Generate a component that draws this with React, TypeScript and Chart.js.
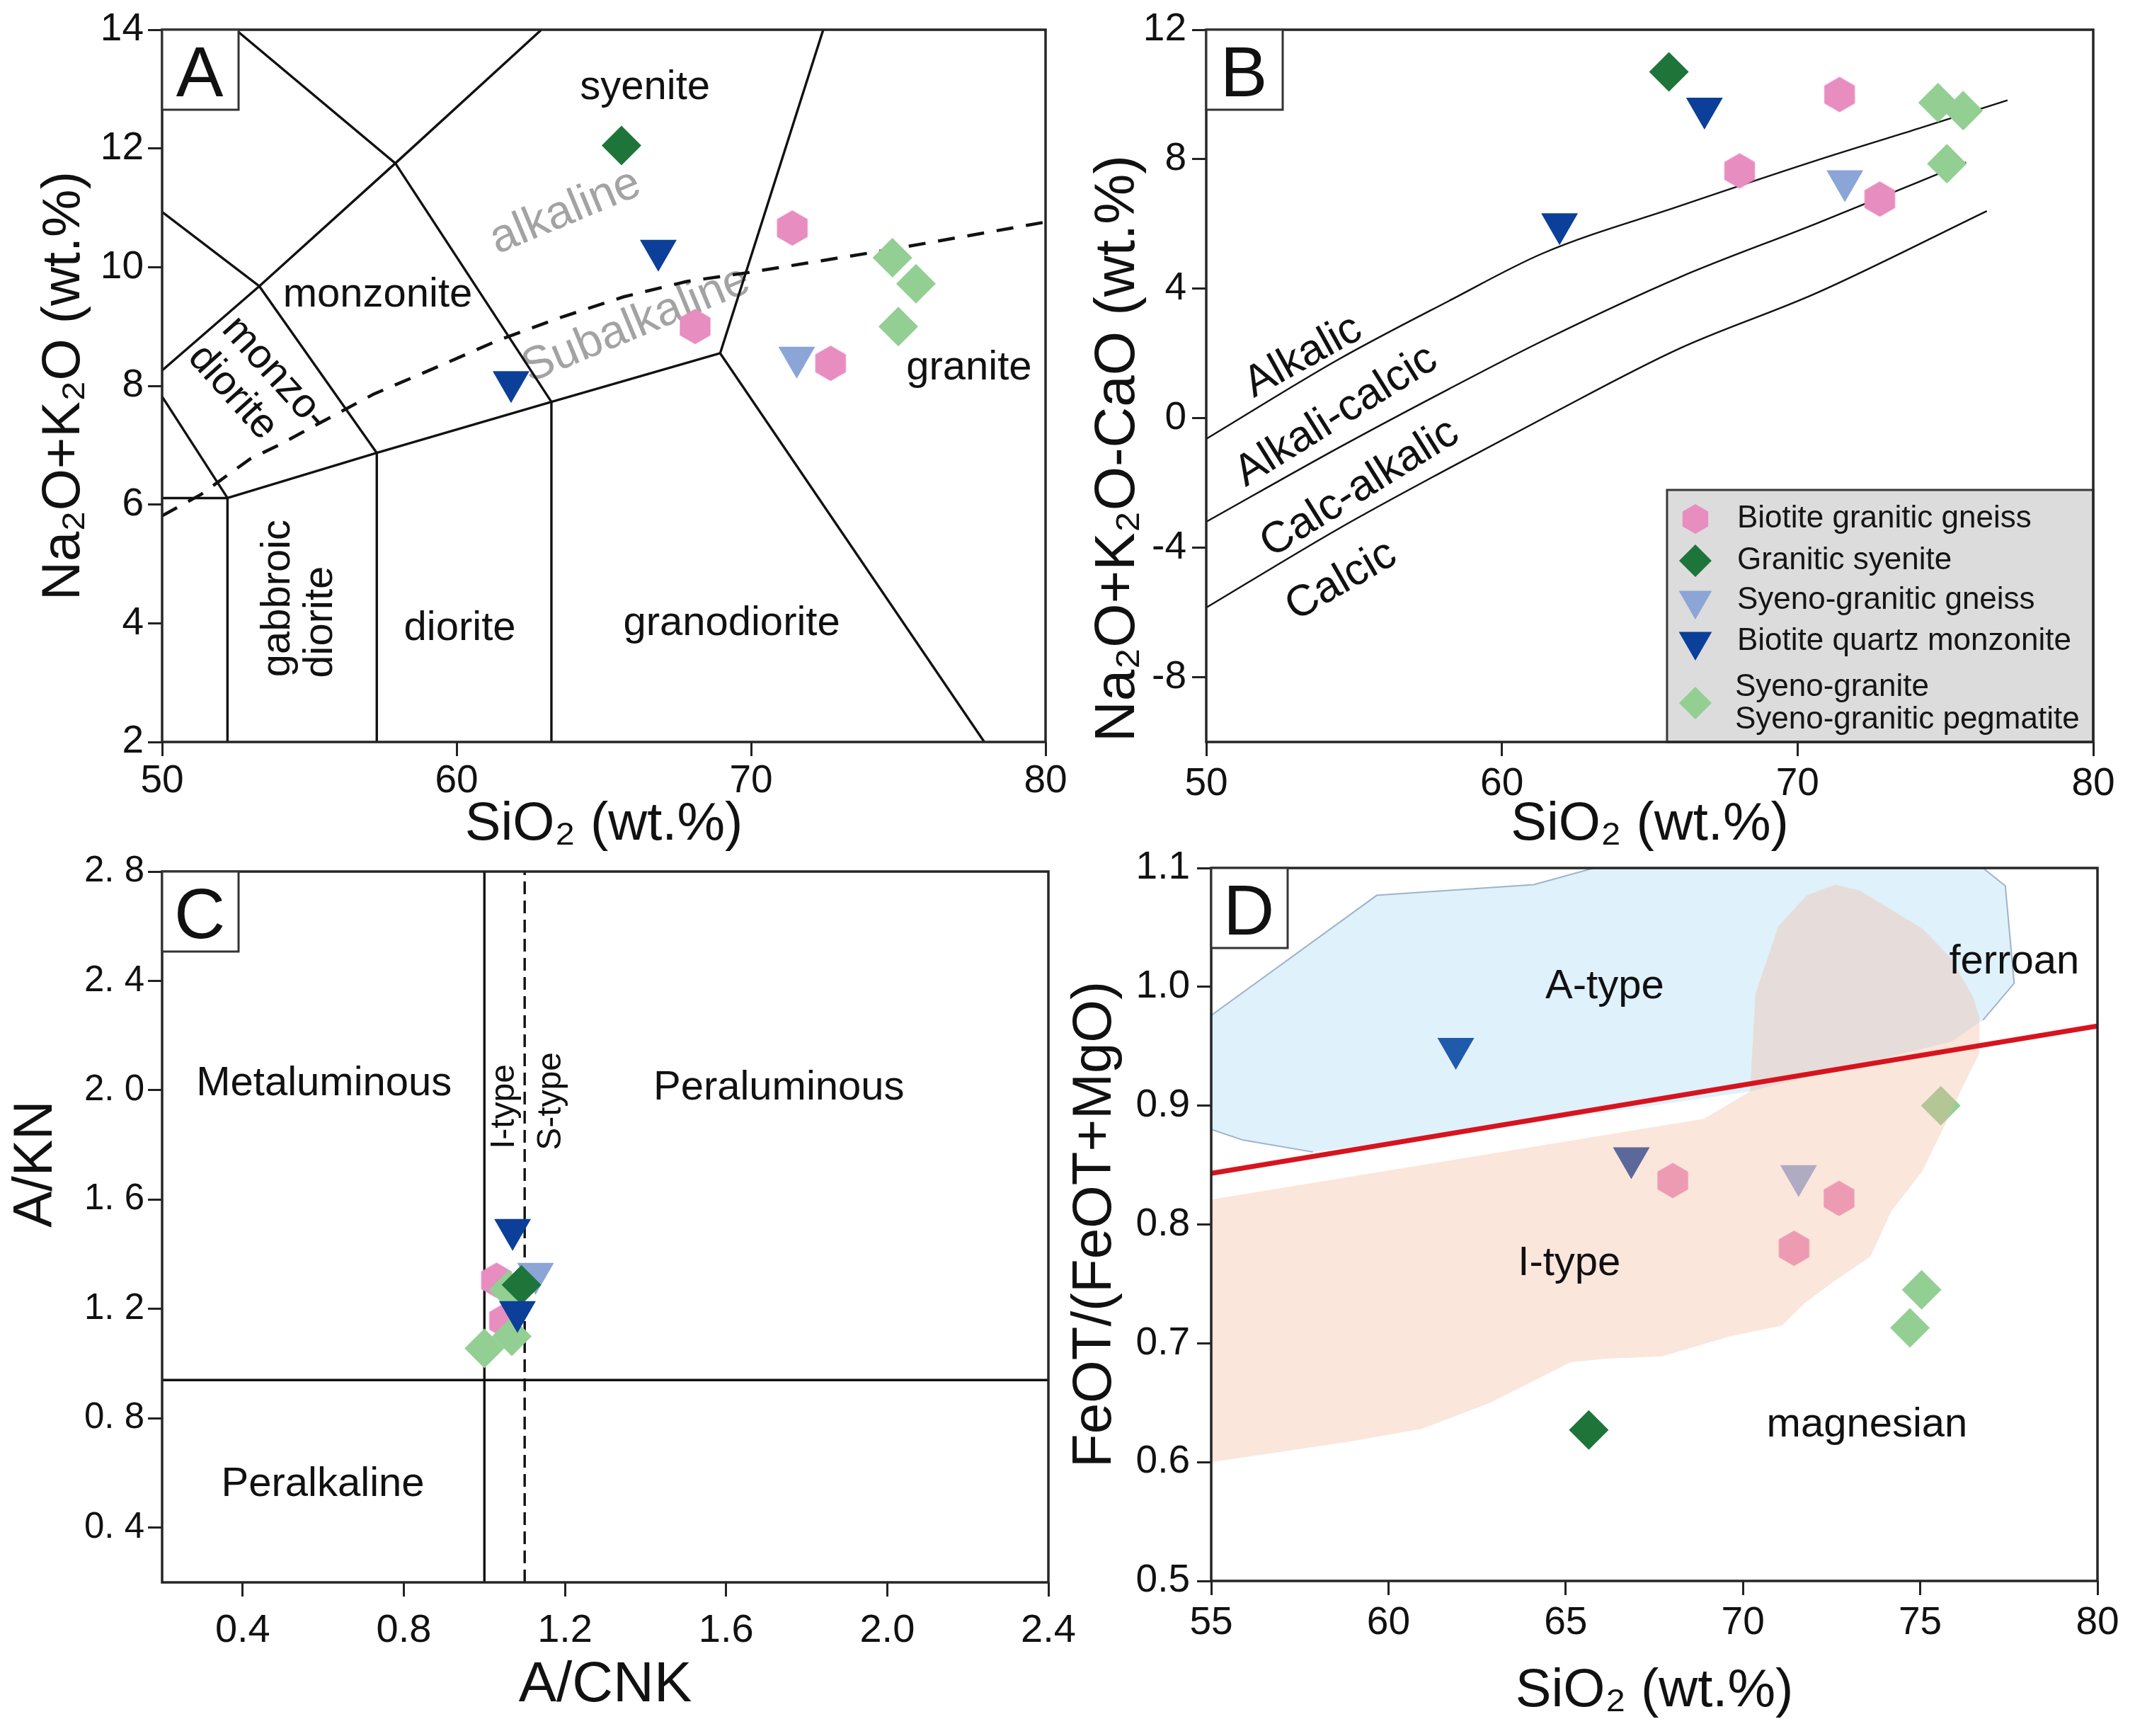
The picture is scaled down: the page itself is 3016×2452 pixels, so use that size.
import React, { useEffect, useRef } from 'react';
import { Chart, registerables } from 'chart.js';

Chart.register(...registerables);

const FONT = "'Liberation Sans', Arial, Helvetica, sans-serif";

type XY = [number, number];

// ---------------- sample groups (shared by all panels) ----------------
const seriesNames = ['Biotite granitic gneiss', 'Granitic syenite', 'Syeno-granitic gneiss', 'Biotite quartz monzonite', 'Syeno-granite / Syeno-granitic pegmatite'];
const legendLines = [['Biotite granitic gneiss'], ['Granitic syenite'], ['Syeno-granitic gneiss'], ['Biotite quartz monzonite'], ['Syeno-granite', 'Syeno-granitic pegmatite']];
const seriesColors = ['#e88dbf', '#1e7539', '#8ba5d7', '#0b3f99', '#93cf93'];
const seriesShapes = ['hex', 'diamond', 'tri', 'tri', 'diamond'];
const seriesOrder = [15, 12, 13, 11, 14];

// ---------------- Panel A : TAS ----------------
const tasBiotiteGranitic: XY[] = [[71.4, 10.66], [68.1, 9.0], [72.7, 8.38]];
const tasGraniticSyenite: XY[] = [[65.6, 12.05]];
const tasSyenoGneiss: XY[] = [[71.55, 8.48]];
const tasQtzMonzonite: XY[] = [[66.85, 10.28], [61.85, 8.07]];
const tasSyenoGranite: XY[] = [[74.8, 10.16], [75.6, 9.72], [75.0, 9.0]];
const tasBoundaries: XY[][] = [
  [[50, 8.26], [53.3, 9.68], [57.92, 11.75], [62.88, 14]],
  [[52.5, 14], [57.92, 11.75], [63.22, 7.73]],
  [[50, 10.93], [53.3, 9.68], [57.29, 6.87]],
  [[50, 7.82], [52.22, 6.11]],
  [[50, 6.11], [52.22, 6.11]],
  [[52.22, 6.11], [57.29, 6.87], [63.22, 7.73], [68.95, 8.55]],
  [[72.45, 14], [68.95, 8.55], [77.92, 2]],
  [[52.22, 6.11], [52.22, 2]],
  [[57.29, 6.87], [57.29, 2]],
  [[63.22, 7.73], [63.22, 2]],
];
const tasAlkalineDivide: XY[] = [[50, 5.81], [51.32, 6.17], [52.15, 6.47], [52.99, 6.77], [53.95, 7.0], [57.18, 7.86], [59.21, 8.29], [61.42, 8.77], [63.52, 9.15], [65.67, 9.5], [67.82, 9.76], [69.92, 9.91], [74.53, 10.28], [80, 10.76]];
const tasXTicks = [50, 60, 70, 80];
const tasYTicks = [2, 4, 6, 8, 10, 12, 14];

// ---------------- Panel B : MALI ----------------
const maliBiotiteGranitic: XY[] = [[71.42, 10.0], [68.04, 7.64], [72.78, 6.77]];
const maliGraniticSyenite: XY[] = [[65.65, 10.7]];
const maliSyenoGneiss: XY[] = [[71.6, 7.33]];
const maliQtzMonzonite: XY[] = [[66.85, 9.57], [61.95, 6.0]];
const maliSyenoGranite: XY[] = [[74.75, 9.75], [75.6, 9.5], [75.05, 7.86]];
const maliAlkalicCurve: XY[] = [[50, -0.64], [54.5, 1.83], [58.2, 3.62], [61.4, 5.1], [66, 6.55], [70.6, 7.95], [74.1, 8.95], [77.1, 9.82]];
const maliAlkaliCalcicCurve: XY[] = [[50, -3.2], [54.5, -0.9], [58.2, 0.9], [61.4, 2.4], [66, 4.35], [70.6, 6.0], [75.7, 7.9]];
const maliCalcAlkalicCurve: XY[] = [[50, -5.85], [54.5, -3.4], [58.2, -1.55], [61.4, 0.0], [66, 2.15], [70.6, 3.85], [76.4, 6.4]];
const maliXTicks = [50, 60, 70, 80];
const maliYTicks = [-8, -4, 0, 4, 8, 12];

// ---------------- Panel C : A/NK vs A/CNK ----------------
const acnkBiotiteGranitic: XY[] = [[1.03, 1.305], [1.05, 1.157]];
const acnkGraniticSyenite: XY[] = [[1.092, 1.288]];
const acnkSyenoGneiss: XY[] = [[1.127, 1.33]];
const acnkQtzMonzonite: XY[] = [[1.07, 1.49], [1.082, 1.19]];
const acnkSyenoGranite: XY[] = [[1.0, 1.056], [1.068, 1.1], [1.06, 1.27]];
const acnkMetaluminousDivide: XY[] = [[1.0, 0.2], [1.0, 2.8]];
const acnkISTypeDivide: XY[] = [[1.1, 0.2], [1.1, 2.8]];
const acnkPeralkalineDivide: XY[] = [[0.2, 0.94], [2.4, 0.94]];
const acnkXTicks = [0.4, 0.8, 1.2, 1.6, 2.0, 2.4];
const acnkYTicks = [0.4, 0.8, 1.2, 1.6, 2.0, 2.4, 2.8];

// ---------------- Panel D : Fe-number ----------------
const feBiotiteGranitic: XY[] = [[68.02, 0.837], [71.44, 0.78], [72.71, 0.822]];
const feGraniticSyenite: XY[] = [[65.65, 0.627]];
const feSyenoGneiss: XY[] = [[71.57, 0.841]];
const feQtzMonzonite: XY[] = [[61.9, 0.948], [66.85, 0.856]];
const feSyenoGranite: XY[] = [[75.58, 0.9], [75.04, 0.745], [74.71, 0.713]];
const feFerroanDivide: XY[] = [[55, 0.843], [80, 0.967]];
const feATypeField: XY[] = [[55, 0.976], [59.67, 1.077], [64.1, 1.086], [65.8, 1.1], [76.77, 1.1], [77.4, 1.085], [77.65, 1.003], [76.77, 0.972], [75.9, 0.954], [70.2, 0.912], [64.0, 0.885], [57.87, 0.861], [55.9, 0.871], [55, 0.88], [55, 0.976]];
const feITypeField: XY[] = [[55, 0.821], [68.9, 0.889], [70.2, 0.912], [70.35, 0.994], [71.0, 1.051], [71.8, 1.077], [72.6, 1.086], [73.3, 1.081], [75.06, 1.049], [75.87, 1.024], [76.5, 0.991], [76.67, 0.974], [76.67, 0.944], [76.2, 0.916], [75.7, 0.884], [75.06, 0.845], [74.18, 0.811], [73.6, 0.773], [72.56, 0.752], [71.75, 0.734], [71.1, 0.715], [69.65, 0.706], [67.72, 0.689], [66.1, 0.687], [65.13, 0.684], [62.87, 0.65], [60.94, 0.628], [58.83, 0.617], [55, 0.6], [55, 0.821]];
const feXTicks = [55, 60, 65, 70, 75, 80];
const feYTicks = [0.5, 0.6, 0.7, 0.8, 0.9, 1.0, 1.1];

// ---------------- text labels ----------------
type Label = { text: string; x: number; y: number; rot?: number; size: number; color?: string };
const labelsA: Label[] = [
  { text: 'syenite', x: 66.4, y: 13.02, size: 58 },
  { text: 'alkaline', x: 63.7, y: 10.93, rot: -22.5, size: 66, color: '#a3a3a3' },
  { text: 'monzonite', x: 57.32, y: 9.53, size: 58 },
  { text: 'Subalkaline', x: 66.1, y: 9.03, rot: -22.5, size: 66, color: '#a3a3a3' },
  { text: 'granite', x: 77.4, y: 8.3, size: 58 },
  { text: 'monzo-', x: 53.83, y: 8.21, rot: 48, size: 58 },
  { text: 'diorite', x: 52.39, y: 7.89, rot: 48, size: 58 },
  { text: 'gabbroic', x: 53.95, y: 4.42, rot: -90, size: 58 },
  { text: 'diorite', x: 55.38, y: 4.02, rot: -90, size: 58 },
  { text: 'diorite', x: 60.11, y: 3.91, size: 58 },
  { text: 'granodiorite', x: 69.34, y: 3.99, size: 58 },
];
const labelsB: Label[] = [
  { text: 'Alkalic', x: 53.28, y: 1.9, rot: -29, size: 62 },
  { text: 'Alkali-calcic', x: 54.4, y: 0.06, rot: -32, size: 62 },
  { text: 'Calc-alkalic', x: 55.2, y: -2.17, rot: -32, size: 62 },
  { text: 'Calcic', x: 54.57, y: -5.03, rot: -30, size: 62 },
];
const labelsC: Label[] = [
  { text: 'Metaluminous', x: 0.602, y: 2.023, size: 58 },
  { text: 'Peraluminous', x: 1.731, y: 2.008, size: 58 },
  { text: 'Peralkaline', x: 0.599, y: 0.558, size: 58 },
  { text: 'I-type', x: 1.05, y: 1.94, rot: -90, size: 48 },
  { text: 'S-type', x: 1.166, y: 1.96, rot: -90, size: 48 },
];
const labelsD: Label[] = [
  { text: 'A-type', x: 66.1, y: 1.0, size: 58 },
  { text: 'ferroan', x: 77.65, y: 1.021, size: 58 },
  { text: 'I-type', x: 65.1, y: 0.767, size: 58 },
  { text: 'magnesian', x: 73.5, y: 0.631, size: 58 },
];

// ---------------- helpers ----------------
const toPts = (a: XY[]) => a.map(([x, y]) => ({ x, y }));

function shapePath(ctx: CanvasRenderingContext2D, shape: string, x: number, y: number, r: number) {
  ctx.beginPath();
  if (shape === 'hex') {
    for (let k = 0; k < 6; k++) {
      const a = ((-90 + 60 * k) * Math.PI) / 180;
      const px = x + r * Math.cos(a), py = y + r * Math.sin(a);
      if (k === 0) ctx.moveTo(px, py); else ctx.lineTo(px, py);
    }
  } else if (shape === 'diamond') {
    ctx.moveTo(x, y - r); ctx.lineTo(x + r, y); ctx.lineTo(x, y + r); ctx.lineTo(x - r, y);
  } else {
    const c = Math.cos(Math.PI / 6) * r;
    ctx.moveTo(x, y + r); ctx.lineTo(x - c, y - r / 2); ctx.lineTo(x + c, y - r / 2);
  }
  ctx.closePath();
}

function makeHex(color: string, r: number) {
  const w = Math.ceil(r * Math.sqrt(3)) + 2, h = Math.ceil(2 * r) + 2;
  const c = document.createElement('canvas');
  c.width = w; c.height = h;
  const g = c.getContext('2d')!;
  g.fillStyle = color;
  shapePath(g, 'hex', w / 2, h / 2, r);
  g.fill();
  return c;
}

function markerSets(groups: XY[][], hex: HTMLCanvasElement) {
  return groups.map((g, i) => {
    const shape = seriesShapes[i];
    const ds: any = {
      type: 'scatter', label: seriesNames[i], data: toPts(g), order: seriesOrder[i],
      pointBackgroundColor: seriesColors[i], backgroundColor: seriesColors[i],
      pointBorderWidth: 0, borderWidth: 0,
    };
    if (shape === 'hex') { ds.pointStyle = hex; ds.pointRadius = 25; }
    else if (shape === 'diamond') { ds.pointStyle = 'rectRot'; ds.pointRadius = 28; }
    else { ds.pointStyle = 'triangle'; ds.pointRadius = 30; ds.pointRotation = 180; }
    return ds;
  });
}

function lineSet(pts: XY[], o: any = {}) {
  return { type: 'line', data: toPts(pts), borderColor: '#111', borderWidth: 3.4, pointRadius: 0, fill: false, tension: 0, order: 50, ...o };
}

type AxisSpec = {
  min: number; max: number; ticks: number[]; fmt: (v: number) => string; size: number; pad: number;
  fit: number; title: string; titleSize: number; titlePad: number; align?: string; showTitle?: boolean;
};

function axis(a: AxisSpec, horizontal: boolean) {
  return {
    type: 'linear',
    position: horizontal ? 'bottom' : 'left',
    min: a.min, max: a.max,
    afterBuildTicks: (s: any) => { s.ticks = a.ticks.map((v) => ({ value: v })); },
    afterFit: (s: any) => { if (horizontal) s.height = a.fit; else s.width = a.fit; },
    grid: { display: true, drawOnChartArea: false, drawTicks: true, tickLength: 20, tickWidth: 3, tickColor: '#222', color: '#222', lineWidth: 3 },
    border: { display: false },
    ticks: { autoSkip: false, maxRotation: 0, minRotation: 0, padding: a.pad, color: '#111', font: { family: FONT, size: a.size }, callback: (v: any) => a.fmt(Number(v)) },
    title: {
      display: a.showTitle !== false, text: a.title, color: '#111', align: a.align || 'center',
      font: { family: FONT, size: a.titleSize, lineHeight: 1 },
      padding: horizontal ? { top: 0, bottom: a.titlePad } : { top: a.titlePad, bottom: 0 },
    },
  };
}

type Decor = {
  letter: string; labels: Label[]; labelsOnTop?: boolean; legend?: { x: number; y: number };
  yTitle?: { text: string; size: number; left: number; y: number };
};

function decorPlugin(id: string, d: Decor) {
  const drawLabels = (chart: any) => {
    const { ctx, scales } = chart;
    ctx.save();
    for (const l of d.labels) {
      const px = scales.x.getPixelForValue(l.x), py = scales.y.getPixelForValue(l.y);
      ctx.save();
      ctx.translate(px, py);
      ctx.rotate(((l.rot || 0) * Math.PI) / 180);
      ctx.font = `${l.size}px ${FONT}`;
      ctx.fillStyle = l.color || '#111';
      ctx.textAlign = 'center';
      ctx.textBaseline = 'middle';
      ctx.fillText(l.text, 0, 0);
      ctx.restore();
    }
    ctx.restore();
  };
  return {
    id,
    beforeDatasetsDraw(chart: any) { if (!d.labelsOnTop) drawLabels(chart); },
    afterDatasetsDraw(chart: any) {
      if (d.labelsOnTop) drawLabels(chart);
      const { ctx, chartArea: ca, scales } = chart;
      ctx.save();
      // y-axis title drawn off-centre, as in the source figure
      if (d.yTitle) {
        ctx.save();
        ctx.translate(d.yTitle.left, scales.y.getPixelForValue(d.yTitle.y));
        ctx.rotate(-Math.PI / 2);
        ctx.font = `${d.yTitle.size}px ${FONT}`;
        ctx.fillStyle = '#111';
        ctx.textAlign = 'center'; ctx.textBaseline = 'middle';
        ctx.fillText(d.yTitle.text, 0, 0);
        ctx.restore();
      }
      // legend
      if (d.legend) {
        const L = scales.x.getPixelForValue(d.legend.x), T = scales.y.getPixelForValue(d.legend.y);
        ctx.fillStyle = '#dcdcdc';
        ctx.fillRect(L, T, ca.right - L, ca.bottom - T);
        ctx.strokeStyle = '#3a3a3a'; ctx.lineWidth = 3;
        ctx.strokeRect(L, T, ca.right - L, ca.bottom - T);
        const rowY = [41, 100, 156, 214, 301];
        const lineY = [[41], [100], [156], [214], [279, 325]];
        const rad: any = { hex: 21, diamond: 23, tri: 27 };
        for (let i = 0; i < legendLines.length; i++) {
          ctx.fillStyle = seriesColors[i];
          shapePath(ctx, seriesShapes[i], L + 40, T + rowY[i], rad[seriesShapes[i]]);
          ctx.fill();
          ctx.fillStyle = '#151515';
          ctx.font = `44px ${FONT}`;
          ctx.textAlign = 'left'; ctx.textBaseline = 'middle';
          legendLines[i].forEach((t, k) => ctx.fillText(t, L + (i === 4 ? 96 : 99), T + lineY[i][k]));
        }
      }
      // frame
      ctx.strokeStyle = '#262626'; ctx.lineWidth = 3.5;
      ctx.strokeRect(ca.left, ca.top, ca.right - ca.left, ca.bottom - ca.top);
      // panel letter box
      ctx.fillStyle = '#fff';
      ctx.fillRect(ca.left, ca.top, 108, 113);
      ctx.strokeStyle = '#333'; ctx.lineWidth = 3;
      ctx.strokeRect(ca.left, ca.top, 108, 113);
      ctx.fillStyle = '#111';
      ctx.font = `100px ${FONT}`;
      ctx.textAlign = 'center'; ctx.textBaseline = 'alphabetic';
      ctx.fillText(d.letter, ca.left + 53, ca.top + 94);
      ctx.restore();
    },
  };
}

function makeConfig(datasets: any[], padding: any, x: any, y: any, plugin: any) {
  return {
    type: 'scatter',
    data: { datasets },
    options: {
      animation: false, responsive: false, devicePixelRatio: 1, events: [],
      layout: { padding },
      plugins: { legend: { display: false }, tooltip: { enabled: false } },
      scales: { x, y },
    },
    plugins: [plugin],
  } as any;
}

const int = (v: number) => String(v);
const one = (v: number) => v.toFixed(1);
const spaced = (v: number) => v.toFixed(1).replace('.', '. ');

export default function App() {
  const refA = useRef<HTMLCanvasElement>(null);
  const refB = useRef<HTMLCanvasElement>(null);
  const refC = useRef<HTMLCanvasElement>(null);
  const refD = useRef<HTMLCanvasElement>(null);

  useEffect(() => {
    const hex = makeHex(seriesColors[0], 25);

    const dsA = [
      ...markerSets([tasBiotiteGranitic, tasGraniticSyenite, tasSyenoGneiss, tasQtzMonzonite, tasSyenoGranite], hex),
      ...tasBoundaries.map((b) => lineSet(b)),
      lineSet(tasAlkalineDivide, { borderWidth: 4.5, borderDash: [24, 18] }),
    ];
    const chartA = new Chart(refA.current!, makeConfig(dsA, { left: 0, top: 42, right: 83, bottom: 0 },
      axis({ min: 50, max: 80, ticks: tasXTicks, fmt: int, size: 55, pad: 3, fit: 178, title: 'SiO₂ (wt.%)', titleSize: 76, titlePad: 23 }, true),
      axis({ min: 2, max: 14, ticks: tasYTicks, fmt: int, size: 55, pad: 6, fit: 229, title: 'Na₂O+K₂O (wt.%)', titleSize: 76, titlePad: 53 }, false),
      decorPlugin('decorA', { letter: 'A', labels: labelsA })));

    const dsB = [
      ...markerSets([maliBiotiteGranitic, maliGraniticSyenite, maliSyenoGneiss, maliQtzMonzonite, maliSyenoGranite], hex),
      lineSet(maliAlkalicCurve, { borderWidth: 2.4, cubicInterpolationMode: 'monotone' }),
      lineSet(maliAlkaliCalcicCurve, { borderWidth: 2.4, cubicInterpolationMode: 'monotone' }),
      lineSet(maliCalcAlkalicCurve, { borderWidth: 2.4, cubicInterpolationMode: 'monotone' }),
    ];
    const chartB = new Chart(refB.current!, makeConfig(dsB, { left: 0, top: 42, right: 59, bottom: 0 },
      axis({ min: 50, max: 80, ticks: maliXTicks, fmt: int, size: 55, pad: 7, fit: 178, title: 'SiO₂ (wt.%)', titleSize: 76, titlePad: 23 }, true),
      axis({ min: -10, max: 12, ticks: maliYTicks, fmt: int, size: 55, pad: 8, fit: 196, title: 'Na₂O+K₂O-CaO (wt.%)', titleSize: 80, titlePad: 32, align: 'start' }, false),
      decorPlugin('decorB', { letter: 'B', labels: labelsB, legend: { x: 65.585, y: -2.215 } })));

    const dsC = [
      ...markerSets([acnkBiotiteGranitic, acnkGraniticSyenite, acnkSyenoGneiss, acnkQtzMonzonite, acnkSyenoGranite], hex),
      lineSet(acnkMetaluminousDivide),
      lineSet(acnkISTypeDivide, { borderDash: [18, 9] }),
      lineSet(acnkPeralkalineDivide),
    ];
    const chartC = new Chart(refC.current!, makeConfig(dsC, { left: 0, top: 51, right: 79, bottom: 0 },
      axis({ min: 0.2, max: 2.4, ticks: acnkXTicks, fmt: one, size: 56, pad: 15, fit: 217, title: 'A/CNK', titleSize: 80, titlePad: 31 }, true),
      axis({ min: 0.2, max: 2.8, ticks: acnkYTicks, fmt: spaced, size: 51, pad: 5, fit: 229, title: 'A/KN', titleSize: 77, titlePad: 14, showTitle: false }, false),
      decorPlugin('decorC', { letter: 'C', labels: labelsC, yTitle: { text: 'A/KN', size: 77, left: 52, y: 1.73 } })));

    const dsD = [
      ...markerSets([feBiotiteGranitic, feGraniticSyenite, feSyenoGneiss, feQtzMonzonite, feSyenoGranite], hex),
      lineSet(feATypeField, { fill: 'shape', backgroundColor: 'rgba(110,191,237,0.22)', borderWidth: 0, order: 3 }),
      lineSet(feATypeField.slice(0, 8), { borderColor: 'rgba(150,172,196,0.9)', borderWidth: 2, order: 2 }),
      lineSet(feATypeField.slice(11, 14), { borderColor: 'rgba(150,172,196,0.9)', borderWidth: 2, order: 2 }),
      lineSet(feITypeField, { fill: 'shape', backgroundColor: 'rgba(243,182,153,0.344)', borderWidth: 0, order: 1 }),
      lineSet(feFerroanDivide, { borderColor: '#d7141e', borderWidth: 7, order: 0 }),
    ];
    const chartD = new Chart(refD.current!, makeConfig(dsD, { left: 0, top: 46, right: 53, bottom: 0 },
      axis({ min: 55, max: 80, ticks: feXTicks, fmt: int, size: 55, pad: 7, fit: 219, title: 'SiO₂ (wt.%)', titleSize: 76, titlePad: 25 }, true),
      axis({ min: 0.5, max: 1.1, ticks: feYTicks, fmt: one, size: 55, pad: 10, fit: 203, title: 'FeOT/(FeOT+MgO)', titleSize: 78, titlePad: 0 }, false),
      decorPlugin('decorD', { letter: 'D', labels: labelsD, labelsOnTop: true })));

    return () => { chartA.destroy(); chartB.destroy(); chartC.destroy(); chartD.destroy(); };
  }, []);

  const cv = (left: number, top: number, w: number, h: number): React.CSSProperties => ({ position: 'absolute', left, top, width: w, height: h, display: 'block' });

  return (
    <div style={{ position: 'absolute', left: 0, top: 0, width: 3016, height: 2452, background: '#fff', overflow: 'hidden' }}>
      <canvas ref={refA} width={1560} height={1226} style={cv(0, 0, 1560, 1226)} />
      <canvas ref={refB} width={1508} height={1226} style={cv(1508, 0, 1508, 1226)} />
      <canvas ref={refC} width={1560} height={1272} style={cv(0, 1180, 1560, 1272)} />
      <canvas ref={refD} width={1508} height={1272} style={cv(1508, 1180, 1508, 1272)} />
    </div>
  );
}
